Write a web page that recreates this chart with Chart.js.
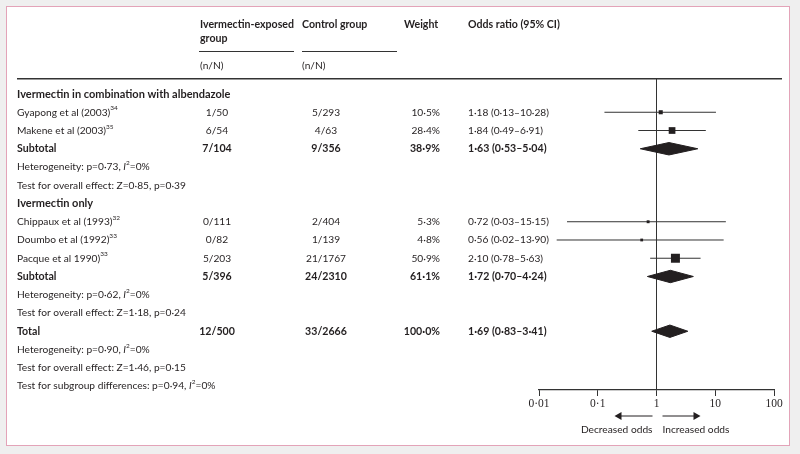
<!DOCTYPE html>
<html>
<head>
<meta charset="utf-8">
<script src="https://cdn.jsdelivr.net/npm/chart.js@4/dist/chart.umd.min.js"></script>
<style>
  html, body { margin: 0; padding: 0; background: #efefef; }
  #wrap { position: relative; width: 800px; height: 454px; }
  #box { position: absolute; left: 6px; top: 6px; width: 782px; height: 438px; background: #fff; border: 1.5px solid #e3a3b8; }
  #holder { position: absolute; left: 0; top: 0; width: 800px; height: 454px; }
</style>
</head>
<body>
<div id="wrap"><div id="box"></div><div id="holder"><canvas id="forest"></canvas></div></div>
<script>
// Studies
const studyNames = ['Gyapong et al (2003)', 'Makene et al (2003)', 'Chippaux et al (1993)', 'Doumbo et al (1992)', 'Pacque et al 1990)'];
const studyRefs = ['34', '35', '32', '33', '33'];
const studyRows = [1, 2, 7, 8, 9];
const ivmEvents = ['1/50', '6/54', '0/111', '0/82', '5/203'];
const ctrlEvents = ['5/293', '4/63', '2/404', '1/139', '21/1767'];
const weights = [10.5, 28.4, 5.3, 4.8, 50.9];
const orEst = [1.18, 1.84, 0.72, 0.56, 2.10];
const orLow = [0.13, 0.49, 0.03, 0.02, 0.78];
const orHigh = [10.28, 6.91, 15.15, 13.90, 5.63];

// Pooled estimates
const pooledNames = ['Subtotal', 'Subtotal', 'Total'];
const pooledRows = [3, 10, 13];
const pooledIvm = ['7/104', '5/396', '12/500'];
const pooledCtrl = ['9/356', '24/2310', '33/2666'];
const pooledWeights = [38.9, 61.1, 100.0];
const pooledEst = [1.63, 1.72, 1.69];
const pooledLow = [0.53, 0.70, 0.83];
const pooledHigh = [5.04, 4.24, 3.41];

// Group headings and test rows
const groupNames = ['Ivermectin in combination with albendazole', 'Ivermectin only'];
const groupRows = [0, 6];
const hetRows = [4, 11, 14];
const hetP = ['0·73', '0·62', '0·90'];
const hetI2 = ['0%', '0%', '0%'];
const effectRows = [5, 12, 15];
const effectZ = ['0·85', '1·18', '1·46'];
const effectP = ['0·39', '0·24', '0·15'];
const subgroupRow = 16;
const subgroupP = '0·94';
const subgroupI2 = '0%';

// Axis
const tickValues = [0.01, 0.1, 1, 10, 100];
const tickLabels = ['0·01', '0·1', '1', '10', '100'];

const INK = '#231f20';
const LINE = '#333333';
const FONT = 'Lato, "Open Sans", sans-serif';
const SIZE = 10.2;
const BOLD = 10.6;
const HEAD = 11;
const SUP = 6.5;
const Y_MIN = -0.877;
const Y_MAX = 16.22;
const DIAMOND_HALF = 0.34;
const SQUARE_K = 0.89;

const fmt = (v, d = 2) => v.toFixed(d).replace('.', '·');
const orText = (e, l, h) => `${fmt(e)} (${fmt(l)}–${fmt(h)})`;

function fontFor(s) {
    if (s === 'b') return `bold ${BOLD}px ${FONT}`;
    if (s === 'h') return `bold ${HEAD}px ${FONT}`;
    if (s === 'i') return `italic ${SIZE}px ${FONT}`;
    if (s === 's') return `${SUP}px ${FONT}`;
    return `${SIZE}px ${FONT}`;
}

// Draw a line of mixed-style text
function runs(ctx, x, y, parts, align = 'left') {
    let w = 0;
    parts.forEach(([t, s]) => { ctx.font = fontFor(s); w += ctx.measureText(t).width; });
    let cx = align === 'right' ? x - w : align === 'center' ? x - w / 2 : x;
    parts.forEach(([t, s]) => {
        ctx.font = fontFor(s);
        ctx.fillText(t, cx, s === 's' ? y - 4 : y);
        cx += ctx.measureText(t).width;
    });
}

const COL = { label: 17, ivmHead: 200, ivm: 217, ctrlHead: 302, ctrl: 326, weight: 440, or: 468 };

const textPlugin = {
    id: 'forestText',
    afterDraw(chart) {
        const { ctx, chartArea } = chart;
        const row = i => chart.scales.y.getPixelForValue(i);
        ctx.save();
        ctx.fillStyle = INK;
        ctx.textAlign = 'left';
        ctx.textBaseline = 'middle';

        // Header
        runs(ctx, COL.ivmHead, 25, [['Ivermectin-exposed', 'b']]);
        runs(ctx, COL.ivmHead, 39, [['group', 'b']]);
        runs(ctx, COL.ctrlHead, 25, [['Control group', 'b']]);
        runs(ctx, 404, 25, [['Weight', 'b']]);
        runs(ctx, COL.or, 25, [['Odds ratio (95% CI)', 'b']]);
        runs(ctx, COL.ivmHead, 66, [['(n/N)', 'n']]);
        runs(ctx, COL.ctrlHead, 66, [['(n/N)', 'n']]);
        ctx.fillStyle = LINE;
        ctx.fillRect(199, 51, 95, 1);
        ctx.fillRect(302, 51, 95, 1);
        ctx.fillRect(17, 78, 765, 1.5);
        ctx.fillStyle = INK;

        groupNames.forEach((g, i) => runs(ctx, COL.label, row(groupRows[i]), [[g, 'h']]));

        studyNames.forEach((n, i) => {
            const y = row(studyRows[i]);
            runs(ctx, COL.label, y, [[n, 'n'], [studyRefs[i], 's']]);
            runs(ctx, COL.ivm, y, [[ivmEvents[i], 'n']], 'center');
            runs(ctx, COL.ctrl, y, [[ctrlEvents[i], 'n']], 'center');
            runs(ctx, COL.weight, y, [[fmt(weights[i], 1) + '%', 'n']], 'right');
            runs(ctx, COL.or, y, [[orText(orEst[i], orLow[i], orHigh[i]), 'n']]);
        });

        pooledNames.forEach((n, i) => {
            const y = row(pooledRows[i]);
            runs(ctx, COL.label, y, [[n, 'b']]);
            runs(ctx, COL.ivm, y, [[pooledIvm[i], 'b']], 'center');
            runs(ctx, COL.ctrl, y, [[pooledCtrl[i], 'b']], 'center');
            runs(ctx, COL.weight, y, [[fmt(pooledWeights[i], 1) + '%', 'b']], 'right');
            runs(ctx, COL.or, y, [[orText(pooledEst[i], pooledLow[i], pooledHigh[i]), 'b']]);
        });

        hetRows.forEach((r, i) => runs(ctx, COL.label, row(r),
            [[`Heterogeneity: p=${hetP[i]}, `, 'n'], ['I', 'i'], ['2', 's'], [`=${hetI2[i]}`, 'n']]));
        effectRows.forEach((r, i) => runs(ctx, COL.label, row(r),
            [[`Test for overall effect: Z=${effectZ[i]}, p=${effectP[i]}`, 'n']]));
        runs(ctx, COL.label, row(subgroupRow),
            [[`Test for subgroup differences: p=${subgroupP}, `, 'n'], ['I', 'i'], ['2', 's'], [`=${subgroupI2}`, 'n']]);

        // Direction arrows under the axis
        const x1 = chart.scales.x.getPixelForValue(1);
        const ay = chartArea.bottom + 26;
        ctx.strokeStyle = INK;
        ctx.lineWidth = 1;
        ctx.beginPath();
        ctx.moveTo(x1 - 4, ay); ctx.lineTo(x1 - 37, ay);
        ctx.moveTo(x1 + 6, ay); ctx.lineTo(x1 + 39, ay);
        ctx.stroke();
        ctx.beginPath();
        ctx.moveTo(x1 - 42, ay); ctx.lineTo(x1 - 35, ay - 4); ctx.lineTo(x1 - 35, ay + 4); ctx.closePath();
        ctx.moveTo(x1 + 44, ay); ctx.lineTo(x1 + 37, ay - 4); ctx.lineTo(x1 + 37, ay + 4); ctx.closePath();
        ctx.fill();
        runs(ctx, x1 - 4, ay + 14, [['Decreased odds', 'n']], 'right');
        runs(ctx, x1 + 6, ay + 14, [['Increased odds', 'n']]);
        ctx.restore();
    }
};

const ciSets = studyNames.map((_, i) => ({
    data: [{ x: orLow[i], y: studyRows[i] }, { x: orHigh[i], y: studyRows[i] }],
    showLine: true, borderColor: LINE, borderWidth: 1, pointRadius: 0, order: 2
}));

const squareSet = {
    data: studyRows.map((r, i) => ({ x: orEst[i], y: r })),
    pointStyle: 'rect',
    pointRadius: c => SQUARE_K * Math.sqrt(weights[c.dataIndex]),
    pointBackgroundColor: INK, pointBorderWidth: 0, order: 0
};

const diamondSets = pooledRows.map((r, i) => ({
    data: [
        { x: pooledLow[i], y: r }, { x: pooledEst[i], y: r - DIAMOND_HALF },
        { x: pooledHigh[i], y: r }, { x: pooledEst[i], y: r + DIAMOND_HALF },
        { x: pooledLow[i], y: r }
    ],
    showLine: true, fill: 'shape', backgroundColor: INK, borderColor: INK,
    borderWidth: 1, pointRadius: 0, order: 1
}));

const refLine = {
    data: [{ x: 1, y: Y_MIN }, { x: 1, y: Y_MAX }],
    showLine: true, borderColor: LINE, borderWidth: 1, pointRadius: 0, order: 3
};

new Chart(document.getElementById('forest'), {
    type: 'scatter',
    data: { datasets: [squareSet, ...diamondSets, ...ciSets, refLine] },
    options: {
        responsive: true,
        maintainAspectRatio: false,
        animation: false,
        events: [],
        layout: { padding: { left: 539, right: 26, top: 78, bottom: 42 } },
        plugins: { legend: { display: false }, tooltip: { enabled: false } },
        scales: {
            x: {
                type: 'logarithmic', min: 0.01, max: 100,
                afterBuildTicks: s => { s.ticks = tickValues.map(v => ({ value: v })); },
                afterFit: s => { s.height = 22; },
                grid: { drawOnChartArea: false, drawTicks: true, tickLength: 6, color: LINE, lineWidth: 1 },
                border: { display: true, color: LINE, width: 1.2 },
                ticks: {
                    callback: v => tickLabels[tickValues.indexOf(v)],
                    font: { family: '"Liberation Serif"', size: 11.5 },
                    color: INK, padding: 1, maxRotation: 0, autoSkip: false
                }
            },
            y: { type: 'linear', reverse: true, min: Y_MIN, max: Y_MAX, display: false }
        }
    },
    plugins: [textPlugin]
});
</script>
</body>
</html>
